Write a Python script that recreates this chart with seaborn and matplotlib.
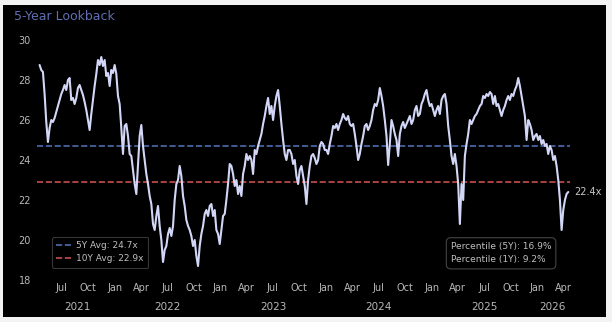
import matplotlib
matplotlib.use("Agg")
import numpy as np
import pandas as pd
import matplotlib.pyplot as plt
import matplotlib.dates as mdates
from matplotlib.patches import Rectangle
from matplotlib.lines import Line2D
import seaborn as sns

# ---------------- data (forward P/E) ----------------
pe_2021_22 = [28.75, 28.5, 28.4, 27.3, 25.9, 24.9, 25.6, 26.0, 25.9, 26.1,
              26.4, 26.7, 27.0, 27.3, 27.5, 27.75, 27.5, 28.0, 28.1, 27.0,
              27.1, 26.8, 27.1, 27.6, 27.75, 27.5, 27.25, 26.9, 26.5, 26.0,
              25.5, 26.3, 27.0, 27.7, 28.3, 29.0, 28.75, 29.15, 28.7, 29.0,
              28.2, 28.35, 27.7, 28.5, 28.35, 28.75, 28.3, 27.2, 26.8, 25.6,
              24.3, 25.7, 25.8, 25.2, 24.3, 24.2, 23.5, 22.8, 22.3, 23.8,
              25.2, 25.75, 24.7, 24.0, 23.3, 22.8, 22.2, 21.8, 20.8, 20.5,
              21.2, 21.7, 20.7, 20.0, 18.9]
pe_2022_23 = [19.5, 19.7, 20.3, 20.6, 20.2, 20.7, 22.0, 22.8, 23.0, 23.7,
              23.2, 22.2, 21.7, 21.0, 20.7, 20.5, 20.2, 19.7, 20.0, 19.2,
              18.7, 19.7, 20.3, 20.7, 21.3, 21.5, 21.2, 21.7, 21.8, 21.2,
              21.5, 20.5, 20.3, 19.8, 20.5, 21.2, 21.3, 22.0, 22.8, 23.8,
              23.7, 23.3, 22.7, 23.0, 22.3, 22.7, 22.2, 23.3, 23.7, 24.3,
              24.0, 24.2, 24.0, 23.3, 24.5, 24.3, 24.7, 25.0, 25.3, 25.8,
              26.2, 26.7, 27.1, 26.3, 26.7, 26.0, 26.7, 27.2, 27.5, 26.7,
              25.8, 25.0, 24.3, 24.0, 24.5, 24.5, 24.3, 23.8, 24.0, 23.2,
              22.8]
pe_2023_24 = [23.5, 23.7, 23.2, 22.7, 21.8, 23.0, 23.7, 24.2, 24.3, 24.1,
              23.8, 24.0, 24.7, 24.9, 24.8, 24.5, 24.5, 24.3, 24.8, 25.2,
              25.7, 25.6, 25.8, 25.5, 25.8, 26.0, 26.3, 26.1, 26.0, 26.2,
              25.8, 25.7, 25.8, 25.3, 24.7, 24.0, 24.3, 24.8, 25.2, 25.7,
              25.8, 25.5, 25.7, 26.0, 26.5, 26.8, 26.7, 27.0, 27.6, 27.2,
              26.7, 26.0, 25.2, 23.75, 24.8, 26.0, 25.7, 25.3, 25.0, 24.2,
              25.3, 25.7, 25.9, 25.6, 25.8, 26.0, 26.2, 25.8, 26.0, 26.5,
              26.7, 26.2, 26.3, 26.8, 27.0, 27.3, 27.5, 27.0, 26.7, 26.8,
              26.5]
pe_2024_26 = [26.2, 26.5, 26.7, 26.3, 27.0, 27.2, 27.3, 26.8, 25.7, 25.0,
              24.2, 23.8, 24.3, 23.7, 22.8, 20.8, 22.8, 22.0, 24.2, 24.8,
              25.3, 26.0, 25.8, 26.0, 26.2, 26.3, 26.5, 26.7, 26.8, 27.2,
              27.1, 27.3, 27.2, 27.4, 27.3, 26.8, 27.2, 26.7, 26.8, 26.5,
              26.2, 26.5, 26.7, 27.0, 27.2, 27.0, 27.3, 27.2, 27.5, 27.7,
              28.1, 27.7, 27.2, 26.7, 26.2, 25.0, 26.0, 25.8, 25.5, 25.0,
              25.2, 25.3, 25.0, 25.2, 24.8, 25.0, 24.7, 24.8, 24.3, 24.7,
              24.5, 24.0, 24.2, 23.7, 23.0, 22.0, 20.5, 21.5, 22.0, 22.3,
              22.4]
start_date = "2021-04-15"
end_date = "2026-04-19"
avg_5y = 24.7
avg_10y = 22.9
pct_5y = 16.9
pct_1y = 9.2
title_text = "5-Year Lookback"
year_labels = [2021, 2022, 2023, 2024, 2025, 2026]
y_ticks = [18, 20, 22, 24, 26, 28, 30]

pe = pe_2021_22 + pe_2022_23 + pe_2023_24 + pe_2024_26
dates = pd.date_range(start_date, end_date, periods=len(pe))
df = pd.DataFrame({"date": dates, "pe": pe})

# ---------------- styling ----------------
sns.set_theme(style="dark")
plt.rcParams["font.family"] = ["DejaVu Sans"]

W, H = 612, 322
fig = plt.figure(figsize=(W / 100, H / 100), dpi=100, facecolor="#f3f3f3")
fig.patches.append(Rectangle((3 / W, (H - 317) / H), (606 - 3) / W, (317 - 5) / H,
                             transform=fig.transFigure, facecolor="black",
                             edgecolor="none", zorder=-10))

ax = fig.add_axes([37 / W, (H - 280) / H, (570 - 37) / W, 240 / H])
ax.set_facecolor("black")
for s in ax.spines.values():
    s.set_visible(False)
ax.grid(False)

line_col = "#d3d7f7"
sns.lineplot(data=df, x="date", y="pe", ax=ax, color=line_col, linewidth=1.5,
             zorder=3, legend=False)

c5 = "#4f6cb0"
c10 = "#c65050"
ax.axhline(avg_5y, color=c5, linestyle="--", linewidth=1.2, zorder=2)
ax.axhline(avg_10y, color=c10, linestyle="--", linewidth=1.2, zorder=2)

ax.set_ylim(18, 30)
ax.set_xlim(pd.Timestamp("2021-04-06"), pd.Timestamp("2026-04-25"))
ax.set_yticks(y_ticks)
ax.set_xlabel("")
ax.set_ylabel("")

tick_col = "#b8b8b8"
ax.xaxis.set_major_locator(mdates.MonthLocator(bymonth=[1, 4, 7, 10]))
ax.xaxis.set_major_formatter(mdates.DateFormatter("%b"))
ax.tick_params(axis="x", length=0, pad=2.5, labelsize=7, colors=tick_col)
ax.tick_params(axis="y", length=0, pad=4.5, labelsize=7, colors=tick_col)

# year labels under month labels
for yr in year_labels:
    a = max(mdates.date2num(pd.Timestamp(f"{yr}-01-01")), mdates.date2num(dates[0]))
    b = min(mdates.date2num(pd.Timestamp(f"{yr + 1}-01-01")), mdates.date2num(dates[-1]))
    ax.text((a + b) / 2, -0.113, str(yr), transform=ax.get_xaxis_transform(),
            ha="center", va="center", fontsize=7.5, color=tick_col, clip_on=False)

# legend
handles = [Line2D([], [], color=c5, linestyle="--", linewidth=1.2),
           Line2D([], [], color=c10, linestyle="--", linewidth=1.2)]
labels = [f"5Y Avg: {avg_5y}x", f"10Y Avg: {avg_10y}x"]
leg = ax.legend(handles, labels, loc="lower left", bbox_to_anchor=(0.028, 0.05),
                borderaxespad=0, fontsize=6.5, frameon=True, facecolor="black",
                edgecolor="#444444", labelcolor="#c0c0c0", handlelength=1.6,
                borderpad=0.5, labelspacing=0.45, handletextpad=0.6)
leg.get_frame().set_linewidth(0.8)

# percentile box
ax.text(0.965, 0.065, f"Percentile (5Y): {pct_5y}%\nPercentile (1Y): {pct_1y}%",
        transform=ax.transAxes, ha="right", va="bottom", multialignment="left",
        fontsize=6.5, color="#c0c0c0", linespacing=1.6,
        bbox=dict(boxstyle="round,pad=0.5", facecolor="black",
                  edgecolor="#444444", linewidth=0.8))

# last value label
last_val = pe[-1]
ax.annotate(f"{last_val:.1f}x", xy=(dates[-1], last_val), xytext=(4, 0),
            textcoords="offset points", va="center", ha="left", fontsize=7,
            color="#c8c8c8", annotation_clip=False)

fig.text(14 / W, 1 - 17 / H, title_text, ha="left", va="center", fontsize=9,
         color="#5f6fb2")

fig.savefig("out.png", dpi=100, facecolor=fig.get_facecolor())
